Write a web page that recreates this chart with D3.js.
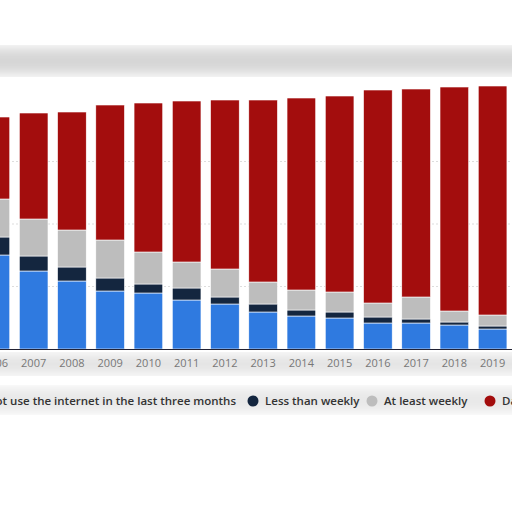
<!DOCTYPE html><html><head><meta charset="utf-8"><script src="https://cdn.jsdelivr.net/npm/d3@7"></script>
<style>body{margin:0;background:#fff}svg{display:block}</style></head><body><svg width="512" height="512"></svg><script>
const years=["2006","2007","2008","2009","2010","2011","2012","2013","2014","2015","2016","2017","2018","2019"];
const notUsed=[37.6,31.2,27.2,23.2,22.4,19.6,18,14.8,13.2,12.4,10.4,10.4,9.6,8];
const lessWeekly=[7.2,6,5.6,5.2,3.6,4.8,2.8,3.2,2.4,2.4,2.4,1.6,1.2,1.2];
const atLeastWeekly=[15.2,14.8,14.8,15.2,12.8,10.4,11.2,8.8,8,8,5.6,8.8,4.4,4.4];
const daily=[32.8,42.4,47.2,54,59.6,64.4,67.6,72.8,76.8,78.4,85.2,83.2,89.6,91.6];
const seriesNames=["Did not use the internet in the last three months","Less than weekly","At least weekly","Daily"];
const colors=["#2f7ae0","#14263f","#bdbdbd","#a30d0d"];
const svg=d3.select("svg");
const defs=svg.append("defs");
defs.append("filter").attr("id","b").append("feGaussianBlur").attr("stdDeviation",6);
svg.append("rect").attr("x",-20).attr("y",48).attr("width",560).attr("height",26).attr("fill","#d6d6d6").attr("filter","url(#b)");
const x=d3.scaleBand().domain(years).range([-28.5,516.5]).padding(0.25);
const y=d3.scaleLinear().domain([0,100]).range([349,99]);
[25,50,75].forEach(v=>svg.append("line").attr("x1",0).attr("x2",512).attr("y1",y(v)).attr("y2",y(v)).attr("stroke","#ddd").attr("stroke-dasharray","2,2"));
const rows=years.map((yr,i)=>({year:yr,s0:notUsed[i],s1:lessWeekly[i],s2:atLeastWeekly[i],s3:daily[i]}));
const stack=d3.stack().keys(["s0","s1","s2","s3"])(rows);
svg.selectAll("g.s").data(stack).join("g").attr("fill",(d,i)=>colors[i])
 .selectAll("rect").data(d=>d).join("rect")
 .attr("x",d=>x(d.data.year)).attr("width",x.bandwidth())
 .attr("y",d=>y(d[1])).attr("height",d=>y(d[0])-y(d[1])).attr("stroke","#fff").attr("stroke-width",0.6);
svg.append("line").attr("x1",0).attr("x2",512).attr("y1",349.5).attr("y2",349.5).attr("stroke","#223");
svg.append("rect").attr("x",-20).attr("y",354).attr("width",560).attr("height",20).attr("fill","#e4e4e4").attr("filter","url(#b)");
svg.append("rect").attr("x",-20).attr("y",388).attr("width",560).attr("height",24).attr("fill","#e8e8e8").attr("filter","url(#b)");
const ax=svg.append("g").attr("transform","translate(0,349)").call(d3.axisBottom(x).tickSize(0).tickPadding(10));
ax.select(".domain").remove();
ax.selectAll("text").attr("fill","#777").attr("font-size",11).attr("font-family","Open Sans, sans-serif");
const leg=[{cx:-20,t:0,end:236},{cx:253,t:1},{cx:372,t:2},{cx:490,t:3}];
leg.forEach(l=>{if(l.t>0)svg.append("circle").attr("cx",l.cx).attr("cy",401).attr("r",5.5).attr("fill",colors[l.t]);
 const t=svg.append("text").attr("y",405).text(seriesNames[l.t]).attr("fill","#333").attr("font-size",11.5).attr("font-weight",600).attr("font-family","Open Sans, sans-serif");
 if(l.end)t.attr("x",l.end).attr("text-anchor","end");else t.attr("x",l.cx+12);});
</script></body></html>
